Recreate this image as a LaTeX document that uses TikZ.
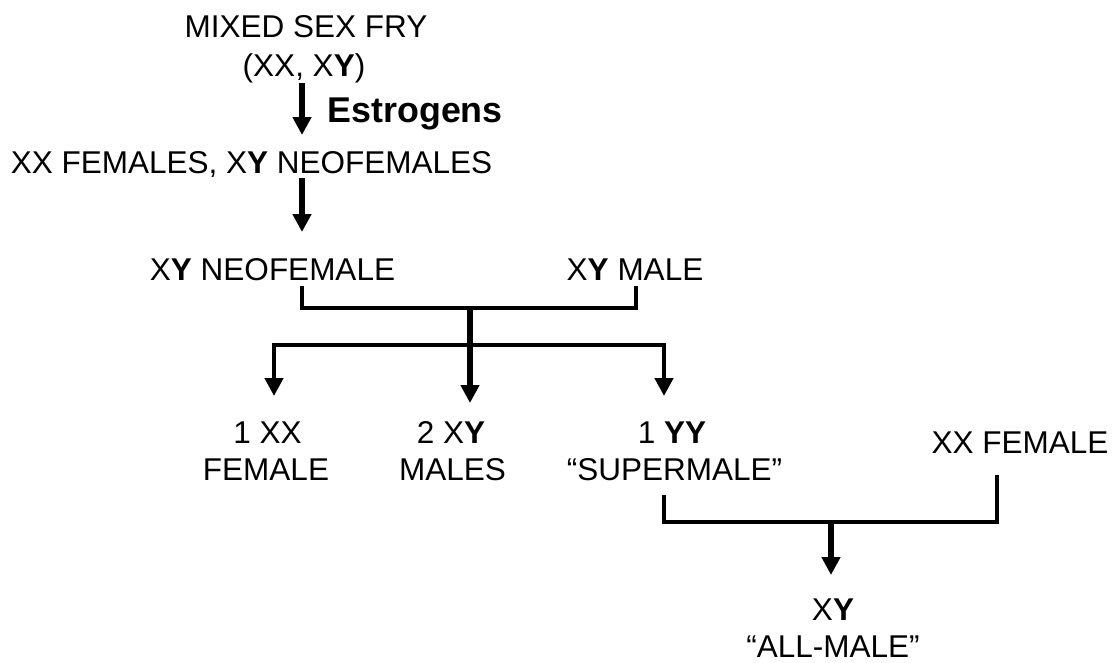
\documentclass[tikz,border=0pt]{standalone}
\usepackage{fontspec}
\setmainfont{Liberation Sans}
\usetikzlibrary{arrows.meta}
\begin{document}
\begin{tikzpicture}[x=1pt,y=-1pt,
  txt/.style={inner sep=0pt, anchor=base, font=\fontsize{31.5}{37}\selectfont},
  boldlabel/.style={inner sep=0pt, anchor=base west, font=\bfseries\fontsize{35.8}{40}\selectfont},
  headtip/.tip={Triangle[width=18pt,length=18pt]},
  stemarrow/.style={line width=6pt, -{headtip}},
  sidearrow/.style={line width=4.3pt, -{headtip}},
  bracketline/.style={line width=4.3pt, line join=miter}
]
\useasboundingbox (0,0) rectangle (1117,662);

% texts
\node[txt] (fry1) at (306,37) {MIXED SEX FRY};
\node[txt] (fry2) at (304,76) {(XX, X\textbf{Y})};
\node[boldlabel] (estr) at (327.5,122) {Estrogens};
\node[txt] (mix) at (251.5,173) {XX FEMALES, X\textbf{Y} NEOFEMALES};
\node[txt] (neo) at (272.5,280) {X\textbf{Y} NEOFEMALE};
\node[txt] (male) at (635,280) {X\textbf{Y} MALE};
\node[txt] (f1a) at (267.5,443) {1 XX};
\node[txt] (f1b) at (266,480) {FEMALE};
\node[txt] (m2a) at (451,443) {2 X\textbf{Y}};
\node[txt] (m2b) at (452.5,480) {MALES};
\node[txt] (s1a) at (672,443) {1 \textbf{YY}};
\node[txt] (s1b) at (674.5,480) {“SUPERMALE”};
\node[txt] (xxf) at (1020,453) {XX FEMALE};
\node[txt] (am1) at (833,620) {X\textbf{Y}};
\node[txt] (am2) at (833,657) {“ALL-MALE”};

% connector points
\coordinate (a1s) at (302,83);
\coordinate (a1e) at (302,135);
\coordinate (a2s) at (302,178);
\coordinate (a2e) at (302,232);
\coordinate (bl) at (302,286);
\coordinate (br) at (636,286);
\coordinate (bj) at (470,308);
\coordinate (sj) at (470,345);
\coordinate (tL) at (274,396);
\coordinate (tM) at (470,403);
\coordinate (tR) at (664,396);
\coordinate (ll) at (664,495);
\coordinate (lr) at (997,475);
\coordinate (lj) at (831,522);
\coordinate (tB) at (831,575);

% connectors
\draw[stemarrow] (a1s) -- (a1e);
\draw[stemarrow] (a2s) -- (a2e);
\draw[bracketline] (bl) |- (bj) -| (br);
\draw[stemarrow] (bj) -- (tM);
\draw[sidearrow] (sj) -| (tL);
\draw[sidearrow] (sj) -| (tR);
\draw[bracketline] (ll) |- (lj) -| (lr);
\draw[stemarrow] (lj) -- (tB);
\end{tikzpicture}
\end{document}
